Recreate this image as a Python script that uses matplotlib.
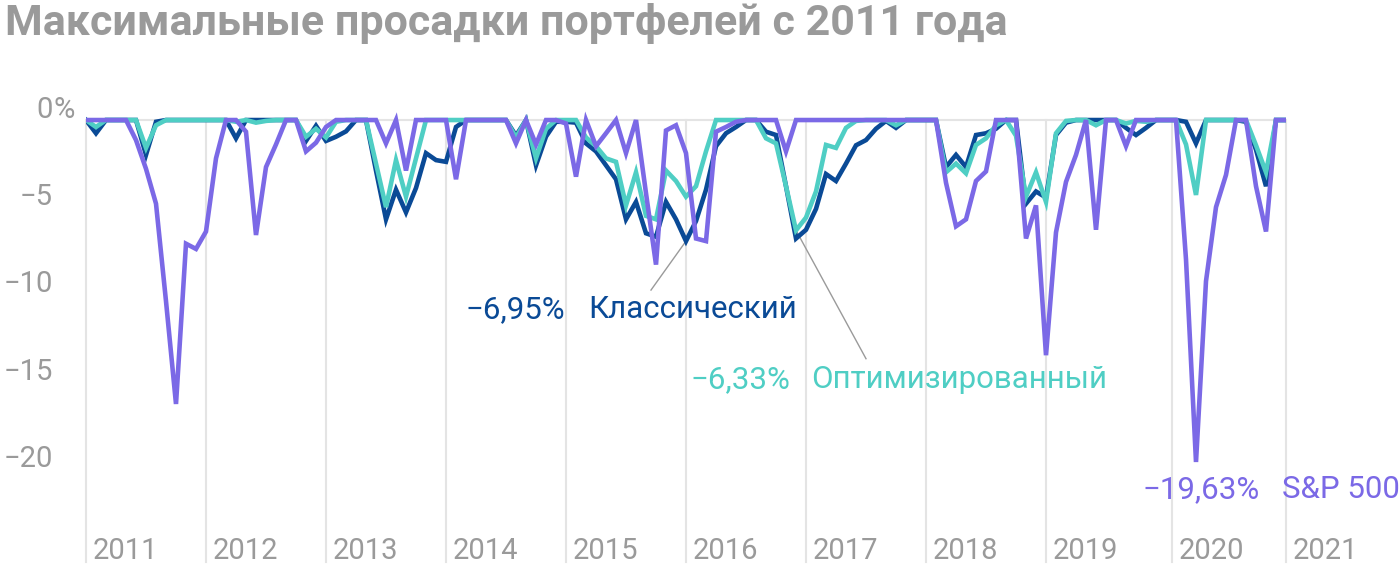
import matplotlib
matplotlib.use("Agg")
import matplotlib.pyplot as plt
from matplotlib.transforms import blended_transform_factory

plt.rcParams['font.family'] = ['Roboto', 'DejaVu Sans']

# Помесячные просадки, % (янв 2011 - янв 2021)
classic = [
    0, -0.76, 0, 0, 0, 0, -2.0, -0.1, 0, 0, 0, 0,
    0, 0, 0, -1.05, 0, 0, 0, 0, 0, 0, -1.2, -0.33,
    -1.2, -0.96, -0.65, 0, 0, -2.9, -5.7, -4.0, -5.3, -3.9, -1.9, -2.3,
    -2.4, -0.4, 0, 0, 0, 0, 0, -0.9, 0, -2.6, -0.95, -0.1,
    -0.1, -0.15, -1.34, -1.8, -2.6, -3.4, -5.7, -4.7, -6.5, -6.7, -4.7, -5.7,
    -6.95, -5.8, -4.0, -1.5, -0.76, -0.4, 0, 0, -0.67, -0.86, -3.8, -6.8,
    -6.3, -5.1, -3.1, -3.5, -2.5, -1.45, -1.15, -0.5, -0.05, -0.45, 0, 0,
    0, 0, -2.7, -2.0, -2.7, -0.86, -0.76, -0.5, 0, 0, -4.8, -4.1,
    -4.45, -0.86, -0.15, 0, 0, 0, 0, 0, -0.45, -0.86, -0.45, 0,
    0, 0, -0.1, -1.34, 0, 0, 0, 0, -0.1, -1.7, -3.8, 0,
    0,
]
optimized = [
    0, -0.4, 0, 0, 0, 0, -1.6, -0.3, 0, 0, 0, 0,
    0, 0, 0, -0.1, 0, -0.15, -0.05, 0, 0, 0, -0.96, -0.5,
    -1.0, -0.1, 0, 0, 0, -2.5, -5.0, -2.3, -4.4, -2.2, 0, 0,
    0, 0, 0, 0, 0, 0, 0, -1.0, 0, -2.2, -0.5, 0,
    0, 0, -1.0, -1.5, -2.2, -2.4, -4.9, -3.0, -5.5, -5.7, -2.9, -3.5,
    -4.4, -3.8, -1.8, 0, 0, 0, 0, 0, -1.05, -1.34, -3.8, -6.33,
    -5.6, -4.1, -1.43, -1.6, -0.45, -0.05, 0, 0, 0, -0.3, 0, 0,
    0, 0, -3.0, -2.5, -3.06, -1.43, -1.05, -0.3, 0, -0.9, -4.4, -3.0,
    -4.7, -0.76, -0.05, 0, 0, -0.3, 0, 0, -0.2, -0.05, -0.1, 0,
    0, 0, -1.4, -4.3, 0, 0, 0, 0, 0, -1.45, -3.0, 0,
    0,
]
sp500 = [
    0, 0, 0, 0, 0, -1.15, -2.8, -4.8, -10.4, -16.3, -7.1, -7.4,
    -6.4, -2.2, 0, 0, -0.67, -6.6, -2.7, -1.4, 0, 0, -1.8, -1.3,
    -0.4, 0, 0, 0, 0, 0, -1.34, 0, -2.9, 0, 0, 0,
    0, -3.4, 0, 0, 0, 0, 0, -1.34, 0, -1.4, 0, 0,
    -0.2, -3.25, 0, -1.5, -0.76, 0, -1.9, 0, -4.2, -8.3, -0.6, -0.3,
    -1.9, -6.8, -6.95, -0.67, -0.4, -0.1, 0, 0, 0, 0, -1.8, 0,
    0, 0, 0, 0, 0, 0, 0, 0, 0, 0, 0, 0,
    0, 0, -3.6, -6.1, -5.7, -3.5, -2.95, 0, 0, 0, -6.8, -4.9,
    -13.5, -6.45, -3.55, -2.0, 0, -6.3, 0, 0, -1.5, 0, 0, 0,
    0, 0, -8.0, -19.63, -9.25, -5.0, -3.15, 0, 0, -3.8, -6.4, 0,
    0,
]
years = ['2011', '2012', '2013', '2014', '2015', '2016', '2017', '2018', '2019', '2020', '2021']
year_pos = [0, 12, 24, 36, 48, 60, 72, 84, 96, 108.6, 120]
y_ticks = [0, -5, -10, -15, -20]

c_classic = '#0a4a96'
c_opt = '#4fcec4'
c_sp = '#7b69e6'
c_gray = '#9a9a9a'
c_grid = '#e4e4e4'

W, H = 1400, 572
fig = plt.figure(figsize=(W / 100, H / 100), dpi=100)
ax = fig.add_axes([86 / W, 1 - 562 / H, 1200 / W, 462 / H])
ax.set_xlim(0, 120)
ax.set_ylim(-25.37, 1.15)
for s in ax.spines.values():
    s.set_visible(False)
ax.set_xticks([])
ax.set_yticks([])

for xp in year_pos:
    ax.plot([xp, xp], [0, -25.37], color=c_grid, lw=1.5, zorder=1, clip_on=False)
ax.plot([0, 120], [0, 0], color=c_grid, lw=1.5, zorder=1)

x = list(range(len(classic)))
ax.plot(x, classic, color=c_classic, lw=3.3, zorder=3, solid_joinstyle='miter')
ax.plot(x, optimized, color=c_opt, lw=3.3, zorder=4, solid_joinstyle='miter')
ax.plot(x, sp500, color=c_sp, lw=3.3, zorder=5, solid_joinstyle='miter')

# подписи оси Y
ty = blended_transform_factory(fig.transFigure, ax.transData)
for v in y_ticks:
    lab = '0' if v == 0 else '\u2212' + str(abs(v))
    ax.text(53 / W, v + 0.1, lab, transform=ty, ha='right', va='baseline',
            fontsize=21, color=c_gray)
ax.text(53 / W, 0.1, '%', transform=ty, ha='left', va='baseline', fontsize=21, color=c_gray)

# годы
tx = blended_transform_factory(ax.transData, fig.transFigure)
for xp, yr in zip(year_pos, years):
    ax.text(xp + 0.7, 1 - 559 / H, yr, transform=tx, ha='left', va='baseline',
            fontsize=21, color=c_gray)

# аннотации
fs = 22.5
ax.text(47.9, -10.9, '\u22126,95%', ha='right', va='center', fontsize=fs, color=c_classic)
ax.text(50.2, -10.9, 'Классический', ha='left', va='center', fontsize=fs, color=c_classic)
ax.plot([56.5, 60], [-9.76, -6.95], color=c_gray, lw=1, zorder=2)

ax.text(70.4, -14.9, '\u22126,33%', ha='right', va='center', fontsize=fs, color=c_opt)
ax.text(72.5, -14.9, 'Оптимизированный', ha='left', va='center', fontsize=fs, color=c_opt)
ax.plot([78, 71], [-13.7, -6.33], color=c_gray, lw=1, zorder=2)

ax.text(117.4, -21.2, '\u221219,63%', ha='right', va='center', fontsize=fs, color=c_sp, clip_on=False)
ax.text(119.6, -21.2, 'S&P 500', ha='left', va='center', fontsize=fs, color=c_sp, clip_on=False)

fig.text(5 / W, 1 - 23 / H, 'Максимальные просадки портфелей с 2011 года',
         ha='left', va='center', fontsize=31, fontweight='bold', color=c_gray)

fig.savefig('out.png', dpi=100)
